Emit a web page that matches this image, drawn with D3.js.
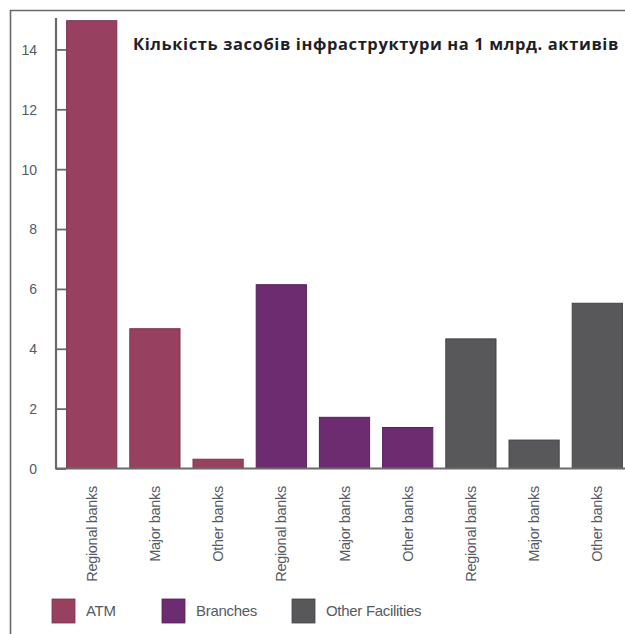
<!DOCTYPE html>
<html><head><meta charset="utf-8">
<script src="https://cdn.jsdelivr.net/npm/d3@7"></script>
<style>html,body{margin:0;padding:0;background:#fff;overflow:hidden}</style>
</head><body>
<svg id="c" width="625" height="634"></svg>
<script>
const categories = ["Regional banks","Major banks","Other banks","Regional banks","Major banks","Other banks","Regional banks","Major banks","Other banks"];
const groups = ["ATM","ATM","ATM","Branches","Branches","Branches","Other Facilities","Other Facilities","Other Facilities"];
const values = [14.96, 4.67, 0.31, 6.14, 1.71, 1.37, 4.33, 0.95, 5.52];
const yTicks = [0, 2, 4, 6, 8, 10, 12, 14];
const seriesNames = ["ATM","Branches","Other Facilities"];
const seriesColors = ["#98405f","#6d2c6f","#58585a"];
const title = "Кількість засобів інфраструктури на 1 млрд. активів";

const svg = d3.select("#c");
const color = d3.scaleOrdinal().domain(seriesNames).range(seriesColors);
const stroke = d3.scaleOrdinal().domain(seriesNames).range(["#7e3350","#58215b","#444446"]);
const FONT = "'Liberation Sans', Arial, sans-serif";

// frame
svg.append("path").attr("d","M10.5,634 L10.5,10.5 L625,10.5").attr("fill","none").attr("stroke","#6a6a6a").attr("stroke-width",1.6);

const x = d3.scaleBand().domain(d3.range(values.length)).range([56, 633]).paddingInner(0.19).paddingOuter(0.16);
const y = d3.scaleLinear().domain([0, 15.05]).range([468.5, 18]);

// bars
svg.append("g").selectAll("rect").data(values).join("rect")
  .attr("x", (d,i)=>x(i)+0.5).attr("width", x.bandwidth()-1)
  .attr("y", d=>y(d)).attr("height", d=>y(0)-y(d))
  .attr("fill",(d,i)=>color(groups[i])).attr("stroke",(d,i)=>stroke(groups[i])).attr("stroke-width",1);

// y axis
const ya = svg.append("g").attr("transform","translate(56,0)")
  .call(d3.axisRight(y).tickValues(yTicks).tickSize(10).tickFormat(d3.format("d")));
ya.select(".domain").attr("stroke","#6a6a6a").attr("stroke-width",2.2).attr("d","M0,18V468.5");
ya.selectAll(".tick line").attr("stroke","#6a6a6a").attr("stroke-width",1.8);
ya.selectAll(".tick text").attr("x",-19).attr("text-anchor","end").attr("fill","#555b66")
  .style("font-family",FONT).style("font-size","14px").attr("dy","0.35em");

// baseline
svg.append("line").attr("x1",55).attr("x2",625).attr("y1",y(0)).attr("y2",y(0)).attr("stroke","#6a6a6a").attr("stroke-width",1.8);

// x labels
svg.append("g").selectAll("text").data(categories).join("text")
  .attr("transform",(d,i)=>`translate(${x(i)+x.bandwidth()/2+5},486) rotate(-90)`)
  .attr("text-anchor","end").attr("fill","#555a63")
  .style("font-family",FONT).style("font-size","14.5px")
  .style("letter-spacing","-0.3px")
  .text(d=>d);

// title
svg.append("text").attr("x",133).attr("y",50).attr("fill","#1f1f2a")
  .style("font-family","'Open Sans', sans-serif").style("font-weight","bold").style("font-size","16.5px")
  .style("letter-spacing","0.6px")
  .text(title);

// legend
const legX = [52, 162, 292];
const lg = svg.append("g").selectAll("g").data(seriesNames).join("g")
  .attr("transform",(d,i)=>`translate(${legX[i]},599)`);
lg.append("rect").attr("width",23).attr("height",24).attr("fill",d=>color(d)).attr("stroke",d=>stroke(d)).attr("stroke-width",0.8);
lg.append("text").attr("x",34).attr("y",12).attr("dy","0.35em").attr("fill","#555a63")
  .style("font-family",FONT).style("font-size","15px").style("letter-spacing","-0.3px")
  .text(d=>d);
</script>
</body></html>
